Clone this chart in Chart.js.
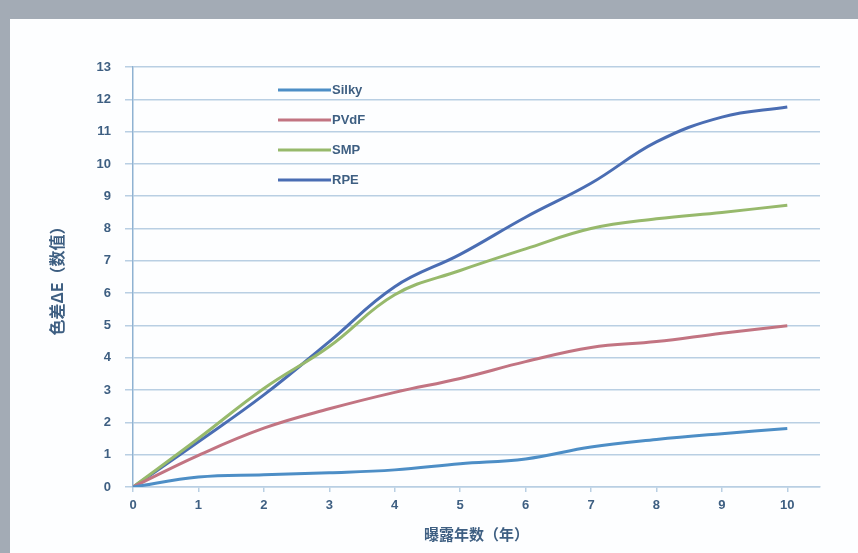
<!DOCTYPE html>
<html>
<head>
<meta charset="utf-8">
<script src="https://cdn.jsdelivr.net/npm/chart.js@4.4.1/dist/chart.umd.min.js"></script>
<style>
  html, body { margin: 0; padding: 0; }
  body { width: 858px; height: 553px; background: #a3abb5; position: relative; overflow: hidden; }
  #panel { position: absolute; left: 10px; top: 19px; width: 848px; height: 534px; background: #fdfeff; }
  canvas { display: block; }
</style>
</head>
<body>
<div id="panel"><canvas id="c" width="848" height="534"></canvas></div>
<script>
// Exposure years on the x axis
const years = [0, 1, 2, 3, 4, 5, 6, 7, 8, 9, 10];
// Colour difference ΔE per material
const silky = [0, 0.31, 0.38, 0.44, 0.53, 0.72, 0.87, 1.24, 1.47, 1.65, 1.81];
const pvdf  = [0, 0.98, 1.82, 2.42, 2.93, 3.36, 3.88, 4.32, 4.5, 4.76, 4.99];
const smp   = [0, 1.5, 3.05, 4.35, 5.95, 6.7, 7.37, 8.0, 8.3, 8.5, 8.72];
const rpe   = [0, 1.4, 2.85, 4.5, 6.2, 7.2, 8.35, 9.4, 10.68, 11.45, 11.76];
const seriesNames = ['Silky', 'PVdF', 'SMP', 'RPE'];
const yTicks = [0, 1, 2, 3, 4, 5, 6, 7, 8, 9, 10, 11, 12, 13];

const colors = ['#4d8ec6', '#c27482', '#97b96c', '#4a6db3'];
const values = [silky, pvdf, smp, rpe];

const toPoints = arr => years.map((x, i) => ({ x: x, y: arr[i] }));

const textColor = '#3e5f82';
const gridColor = '#b9cfe3';

// Legend drawn inside the plot area, top-left
const innerLegend = {
  id: 'innerLegend',
  afterDatasetsDraw(chart) {
    const ctx = chart.ctx;
    ctx.save();
    ctx.font = 'bold 13px "Liberation Sans", Arial, sans-serif';
    ctx.textBaseline = 'middle';
    chart.data.datasets.forEach((ds, i) => {
      const y = 71 + i * 30;
      ctx.strokeStyle = ds.borderColor;
      ctx.lineWidth = 3;
      ctx.beginPath();
      ctx.moveTo(268, y);
      ctx.lineTo(321, y);
      ctx.stroke();
      ctx.fillStyle = textColor;
      ctx.fillText(ds.label, 322, y);
    });
    ctx.restore();
  }
};

new Chart(document.getElementById('c'), {
  type: 'line',
  data: {
    datasets: seriesNames.map((name, i) => ({
      label: name,
      data: toPoints(values[i]),
      borderColor: colors[i],
      backgroundColor: colors[i],
      borderWidth: 3,
      pointRadius: 0,
      tension: 0.4,
      fill: false
    }))
  },
  options: {
    responsive: false,
    animation: false,
    layout: { padding: { left: 0, top: 48, right: 38, bottom: 0 } },
    plugins: { legend: { display: false }, tooltip: { enabled: false } },
    scales: {
      x: {
        type: 'linear',
        min: 0,
        max: 10.5,
        afterFit(scale) { scale.height = 66; },
        ticks: {
          stepSize: 1,
          includeBounds: false,
          color: textColor,
          padding: 6,
          maxRotation: 0,
          font: { family: '"Liberation Sans", Arial, sans-serif', size: 13, weight: 'bold' }
        },
        grid: { display: true, drawOnChartArea: false, color: gridColor, tickLength: 5, lineWidth: 1.5 },
        border: { display: true, color: gridColor, width: 1.5 },
        title: {
          display: true,
          text: '曝露年数（年）',
          color: textColor,
          padding: { top: 0, bottom: 10 },
          font: { family: '"Noto Sans CJK SC", sans-serif', size: 15, weight: 'bold' }
        }
      },
      y: {
        min: 0,
        max: 13,
        afterFit(scale) { scale.width = 123; },
        afterBuildTicks(scale) { scale.ticks = yTicks.map(v => ({ value: v })); },
        ticks: {
          color: textColor,
          padding: 14,
          font: { family: '"Liberation Sans", Arial, sans-serif', size: 13, weight: 'bold' }
        },
        grid: { color: gridColor, lineWidth: 1.5, tickLength: 8 },
        border: { display: true, color: '#8fb2d2', width: 1.5 },
        title: {
          display: true,
          text: '色差ΔE（数值）',
          color: textColor,
          padding: { top: 37, bottom: 0 },
          font: { family: '"Noto Sans CJK SC", sans-serif', size: 16, weight: 'bold' }
        }
      }
    }
  },
  plugins: [innerLegend]
});
</script>
</body>
</html>
